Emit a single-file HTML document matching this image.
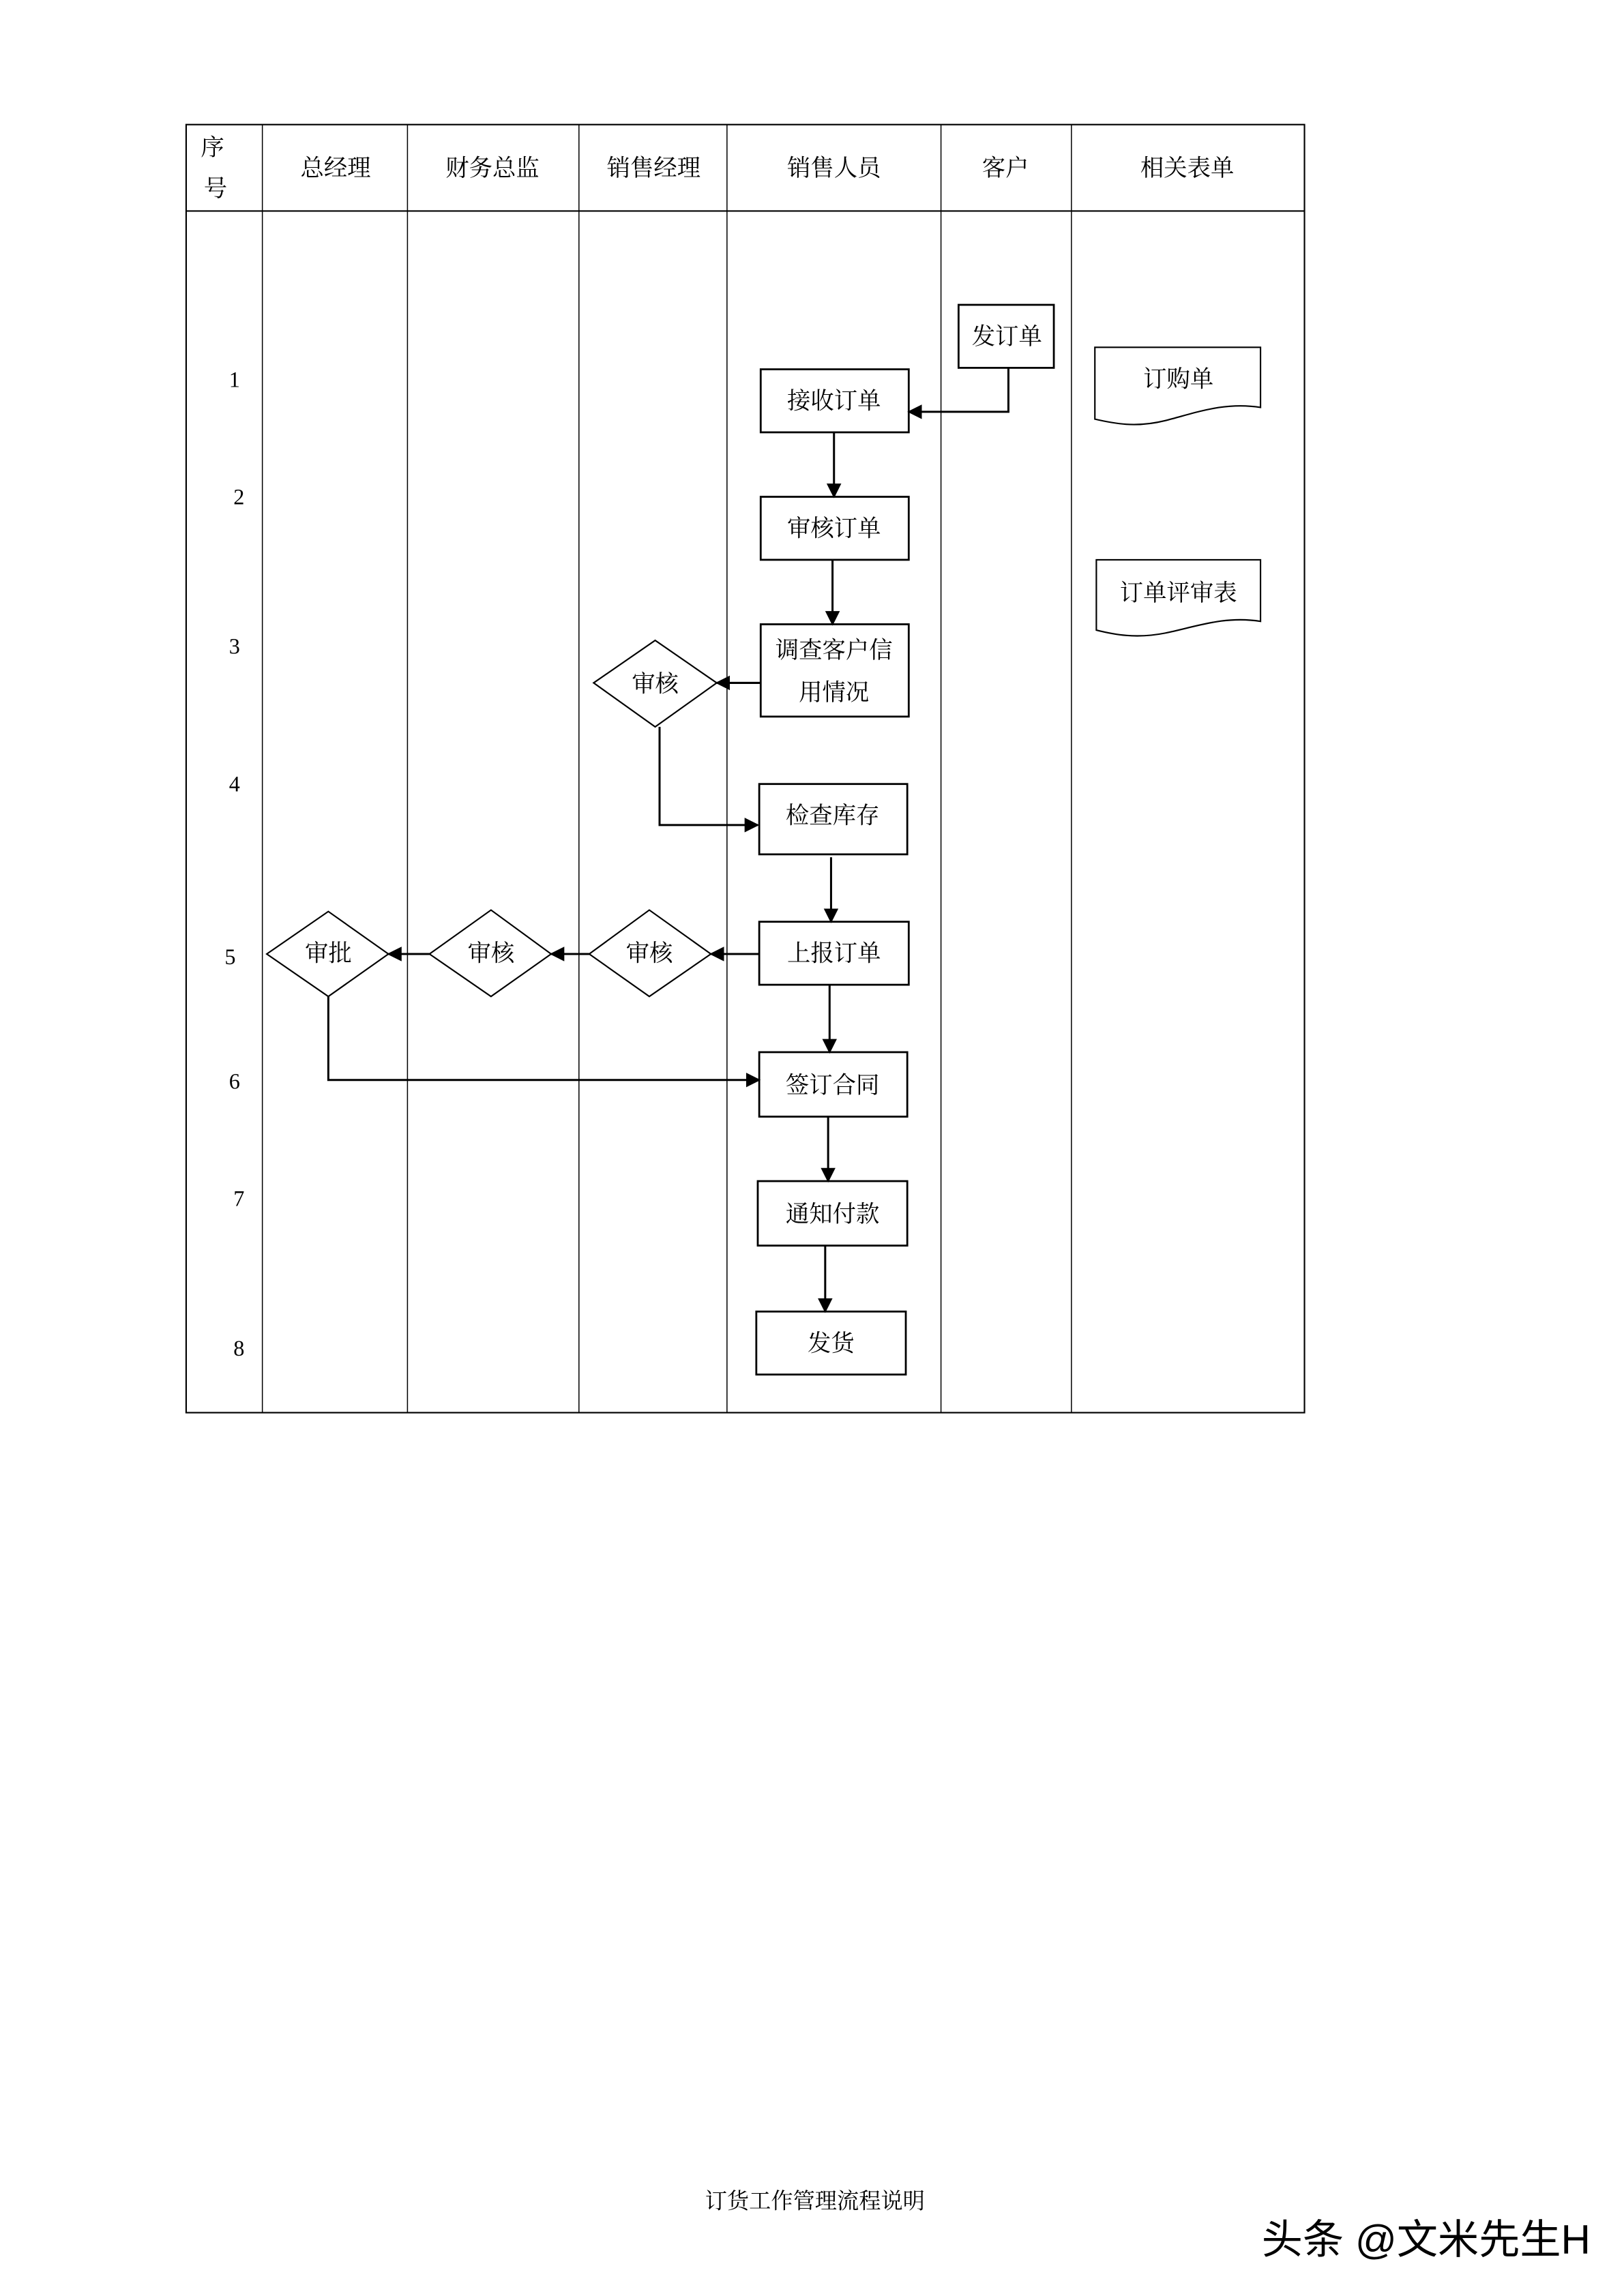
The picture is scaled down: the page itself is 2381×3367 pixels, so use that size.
<!DOCTYPE html>
<html><head><meta charset="utf-8"><style>
html,body{margin:0;padding:0;background:#fff}
svg{display:block}
text{font-family:"Liberation Serif","Noto Serif CJK SC",serif;fill:#000}
</style></head><body>
<svg width="2381" height="3367" viewBox="0 0 1108 1566.8" xmlns="http://www.w3.org/2000/svg">
<defs><marker id="a" markerWidth="10" markerHeight="10" refX="9" refY="5" orient="auto" markerUnits="userSpaceOnUse"><path d="M0,0 L10,5 L0,10 Z" fill="#000"/></marker></defs>
<g stroke="#000" fill="none">
<rect x="127" y="85" width="763" height="879" stroke-width="1"/>
<line x1="127" y1="144" x2="890" y2="144" stroke-width="1"/>
<g stroke-width="0.7">
<line x1="179" y1="85" x2="179" y2="964"/><line x1="278" y1="85" x2="278" y2="964"/>
<line x1="395" y1="85" x2="395" y2="964"/><line x1="496" y1="85" x2="496" y2="964"/>
<line x1="642" y1="85" x2="642" y2="964"/><line x1="731" y1="85" x2="731" y2="964"/>
</g>
<g stroke-width="1.3">
<rect x="654" y="208" width="65" height="43"/>
<rect x="519" y="252" width="101" height="43"/>
<rect x="519" y="339" width="101" height="43"/>
<rect x="519" y="426" width="101" height="63"/>
<rect x="518" y="535" width="101" height="48"/>
<rect x="518" y="629" width="102" height="43"/>
<rect x="518" y="718" width="101" height="44"/>
<rect x="517" y="806" width="102" height="44"/>
<rect x="516" y="895" width="102" height="43"/>
</g>
<g stroke-width="1">
<path d="M405,466 L447,437 L489,466 L447,496 Z"/>
<path d="M402,651 L443,621 L485,651 L443,680 Z"/>
<path d="M293,651 L335,621 L376,651 L335,680 Z"/>
<path d="M182,651 L224,622 L265,651 L224,680 Z"/>
<path d="M747,237 H860 V278 C835,274 815,282 795,287 C775,292 760,289 747,286 Z"/>
<path d="M748,382 H860 V424 C835,420 815,428 795,432 C775,436 760,433 748,430 Z"/>
</g>
<g stroke-width="1.4" marker-end="url(#a)">
<path d="M688,251 V281 H620"/>
<path d="M569,295 V339"/>
<path d="M568,382 V426"/>
<path d="M519,466 H489"/>
<path d="M450,496 V563 H517"/>
<path d="M567,585 V629"/>
<path d="M518,651 H485"/>
<path d="M402,651 H376"/>
<path d="M293,651 H265"/>
<path d="M224,680 V737 H518"/>
<path d="M566,672 V718"/>
<path d="M565,762 V806"/>
<path d="M563,850 V895"/>
</g>
</g>
<g font-size="16" text-anchor="middle">
<text x="145" y="106">序</text><text x="147" y="134">号</text>
<text x="229" y="120">总经理</text><text x="336" y="120">财务总监</text>
<text x="446" y="120">销售经理</text><text x="569" y="120">销售人员</text>
<text x="686" y="120">客户</text><text x="810" y="120">相关表单</text>
<text x="687" y="235">发订单</text>
<text x="569" y="279">接收订单</text>
<text x="569" y="366">审核订单</text>
<text x="569" y="449">调查客户信</text><text x="569" y="478">用情况</text>
<text x="568" y="562">检查库存</text>
<text x="569" y="656">上报订单</text>
<text x="568" y="746">签订合同</text>
<text x="568" y="834">通知付款</text>
<text x="567" y="922">发货</text>
<text x="447" y="472">审核</text>
<text x="443" y="656">审核</text>
<text x="335" y="656">审核</text>
<text x="224" y="656">审批</text>
<text x="804" y="264">订购单</text>
<text x="804" y="410">订单评审表</text>
</g>
<g font-size="15" text-anchor="middle">
<text x="160" y="264">1</text><text x="163" y="344">2</text><text x="160" y="446">3</text>
<text x="160" y="540">4</text><text x="157" y="658">5</text><text x="160" y="743">6</text>
<text x="163" y="823">7</text><text x="163" y="925">8</text>
</g>
<text x="556" y="1507" font-size="15" text-anchor="middle">订货工作管理流程说明</text>
<text x="973" y="1538" font-size="28" text-anchor="middle" style="font-family:'Liberation Sans','Noto Sans CJK SC',sans-serif" fill="#222">头条 @文米先生H</text>
</svg>
</body></html>
